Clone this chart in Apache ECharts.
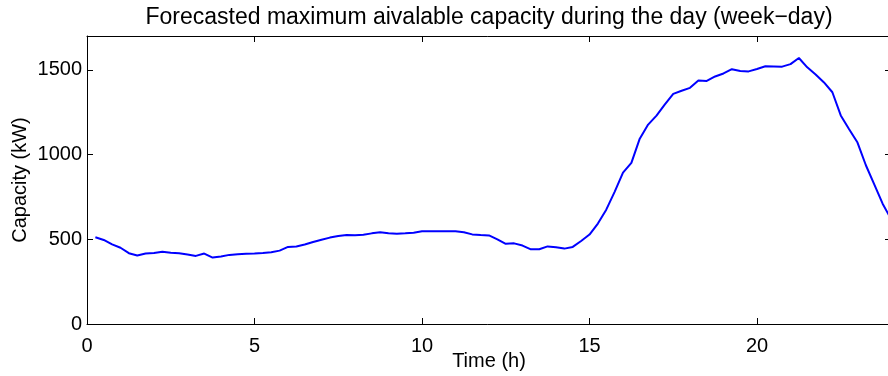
<!DOCTYPE html>
<html>
<head>
<meta charset="utf-8">
<script src="https://cdn.jsdelivr.net/npm/echarts@6/dist/echarts.min.js"></script>
<style>
html,body{margin:0;padding:0;background:#fff;}
#chart{width:888px;height:376px;}
</style>
</head>
<body>
<div id="chart"></div>
<script>
const titleText = 'Forecasted maximum aivalable capacity during the day (week\u2212day)';
const xName = 'Time (h)';
const yName = 'Capacity (kW)';
const xTicks = [0, 5, 10, 15, 20];
const yTicks = [0, 500, 1000, 1500];
const hours = [
  0.25, 0.5, 0.75, 1.0, 1.25, 1.5, 1.75, 2.0, 2.25, 2.5, 2.75, 3.0,
  3.25, 3.5, 3.75, 4.0, 4.25, 4.5, 4.75, 5.0, 5.25, 5.5, 5.75, 6.0,
  6.25, 6.5, 6.75, 7.0, 7.25, 7.5, 7.75, 8.0, 8.25, 8.5, 8.75, 9.0,
  9.25, 9.5, 9.75, 10.0, 10.25, 10.5, 10.75, 11.0, 11.25, 11.5, 11.75, 12.0,
  12.25, 12.5, 12.75, 13.0, 13.25, 13.5, 13.75, 14.0, 14.25, 14.5, 14.75, 15.0,
  15.25, 15.5, 15.75, 16.0, 16.25, 16.5, 16.75, 17.0, 17.25, 17.5, 17.75, 18.0,
  18.25, 18.5, 18.75, 19.0, 19.25, 19.5, 19.75, 20.0, 20.25, 20.5, 20.75, 21.0,
  21.25, 21.5, 21.75, 22.0, 22.25, 22.5, 22.75, 23.0, 23.25, 23.5, 23.75, 24.0
];
const capacity = [
  512, 496, 470, 450, 418, 404, 416, 419, 427, 421, 418, 410,
  402, 416, 392, 398, 408, 412, 414, 416, 419, 423, 433, 455,
  457, 469, 484, 497, 510, 519, 525, 524, 527, 535, 541, 535,
  533, 535, 539, 547, 547, 547, 547, 548, 542, 529, 525, 523,
  500, 473, 476, 463, 441, 441, 458, 453, 445, 455, 490, 528,
  593, 675, 780, 894, 951, 1094, 1177, 1230, 1296, 1358, 1377, 1394,
  1437, 1435, 1461, 1479, 1504, 1493, 1491, 1505, 1521, 1520, 1519, 1534,
  1570, 1515, 1473, 1426, 1368, 1231, 1150, 1071, 937, 824, 710, 620
];

const FONT = 'Liberation Sans';
const seriesData = hours.map((h, i) => [h, capacity[i]]);
const chart = echarts.init(document.getElementById('chart'), null, {renderer: 'canvas'});

const axisLine = {show: true, onZero: false, lineStyle: {color: '#000', width: 1}};
const axisTick = {show: true, inside: true, length: 6, lineStyle: {color: '#000', width: 1}};

chart.setOption({
  animation: false,
  backgroundColor: '#fff',
  title: {
    text: titleText,
    left: 484,
    top: 1,
    textAlign: 'center',
    textStyle: {fontFamily: FONT, fontSize: 23, fontWeight: 'normal', color: '#000'}
  },
  grid: {left: 87, top: 36, right: -3, bottom: 52, containLabel: false, outerBoundsMode: 'none'},
  xAxis: [
    {
      type: 'value', min: 0, max: 24, interval: 5, position: 'bottom',
      name: xName, nameLocation: 'middle', nameGap: 27, nameMoveOverlap: false,
      nameTextStyle: {fontFamily: FONT, fontSize: 20, color: '#000'},
      axisLine: axisLine, axisTick: axisTick, splitLine: {show: false},
      axisLabel: {
        margin: 12, fontFamily: FONT, fontSize: 20, color: '#000', showMaxLabel: false,
        formatter: v => (xTicks.indexOf(v) >= 0 ? String(v) : '')
      }
    },
    {
      type: 'value', min: 0, max: 24, interval: 5, position: 'top',
      axisLine: axisLine, axisTick: axisTick, splitLine: {show: false},
      axisLabel: {show: false}
    }
  ],
  yAxis: [
    {
      type: 'value', min: 0, max: 1700, interval: 500, position: 'left',
      name: yName, nameLocation: 'middle', nameGap: 57, nameRotate: 90, nameMoveOverlap: false,
      nameTextStyle: {fontFamily: FONT, fontSize: 20, color: '#000'},
      axisLine: axisLine, axisTick: axisTick, splitLine: {show: false},
      axisLabel: {
        margin: 5, fontFamily: FONT, fontSize: 20, color: '#000', showMaxLabel: false,
        formatter: v => (yTicks.indexOf(v) >= 0 ? String(v) : '')
      }
    },
    {
      type: 'value', min: 0, max: 1700, interval: 500, position: 'right',
      axisLine: axisLine, axisTick: axisTick, splitLine: {show: false},
      axisLabel: {show: false}
    }
  ],
  series: [{
    type: 'line',
    data: seriesData,
    xAxisIndex: 0,
    yAxisIndex: 0,
    showSymbol: false,
    symbol: 'none',
    lineStyle: {color: '#0000ff', width: 2},
    clip: true
  }]
});
</script>
</body>
</html>
